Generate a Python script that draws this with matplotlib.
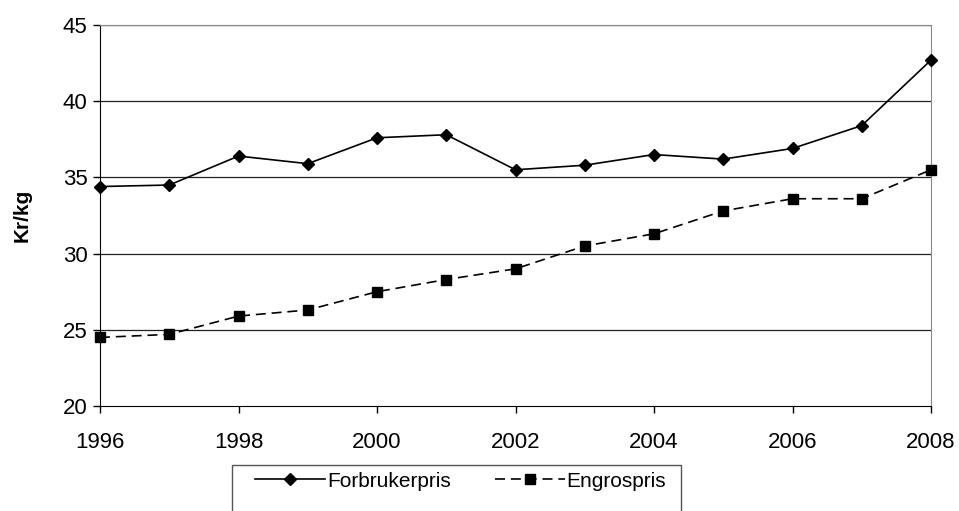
import numpy as np
import matplotlib.pyplot as plt
from matplotlib.patches import Rectangle

plt.rcParams['font.family'] = ['Liberation Sans', 'DejaVu Sans']

# Data
years = [1996, 1997, 1998, 1999, 2000, 2001, 2002, 2003, 2004, 2005, 2006, 2007, 2008]
forbruker = [34.4, 34.5, 36.4, 35.9, 37.6, 37.8, 35.5, 35.8, 36.5, 36.2, 36.9, 38.4, 42.7]
engros = [24.5, 24.7, 25.9, 26.3, 27.5, 28.3, 29.0, 30.5, 31.3, 32.8, 33.6, 33.6, 35.5]
xticks = [1996, 1998, 2000, 2002, 2004, 2006, 2008]
yticks = [20, 25, 30, 35, 40, 45]

fig = plt.figure(figsize=(9.59, 5.11), dpi=100)
ax = fig.add_axes([100/959, 1-406/511, 831/959, 381/511])

# Horizontal grid lines
for yv in yticks[1:]:
    ax.axhline(yv, color='#222222', lw=0.9, zorder=1)

ax.plot(years, forbruker, color='black', lw=1.2, marker='D', ms=6.5,
        label='Forbrukerpris', zorder=3, clip_on=False)
ax.plot(years, engros, color='black', lw=1.2, ls=(0, (6, 3.5)), marker='s', ms=6.5,
        label='Engrospris', zorder=3, clip_on=False)

ax.set_xlim(1996, 2008)
ax.set_ylim(20, 45)
ax.set_xticks(xticks)
ax.set_yticks(yticks)
ax.tick_params(axis='both', labelsize=16, direction='out', length=5, width=1)
ax.tick_params(axis='x', pad=14)
ax.tick_params(axis='y', pad=4)

ax.spines['top'].set_color('#888888')
ax.spines['right'].set_color('#888888')
ax.spines['left'].set_color('black')
ax.spines['bottom'].set_color('black')

fig.text(22/959, 1-215/511, 'Kr/kg', rotation=90, fontsize=15, fontweight='bold',
         ha='center', va='center')

# legend frame drawn separately (cut off by the figure bottom)
fig.patches.append(Rectangle((232/959, -0.05), (681-232)/959, 0.05 + 1-465/511,
                             transform=fig.transFigure, fill=False,
                             edgecolor='#555555', lw=1.0))
leg = fig.legend(loc='center left', bbox_to_anchor=(245/959, 1-481/511),
                 ncol=2, fontsize=15, frameon=False, borderpad=0,
                 handlelength=3.35, columnspacing=2.1, handletextpad=0.1)

plt.savefig('out.png', dpi=100)
